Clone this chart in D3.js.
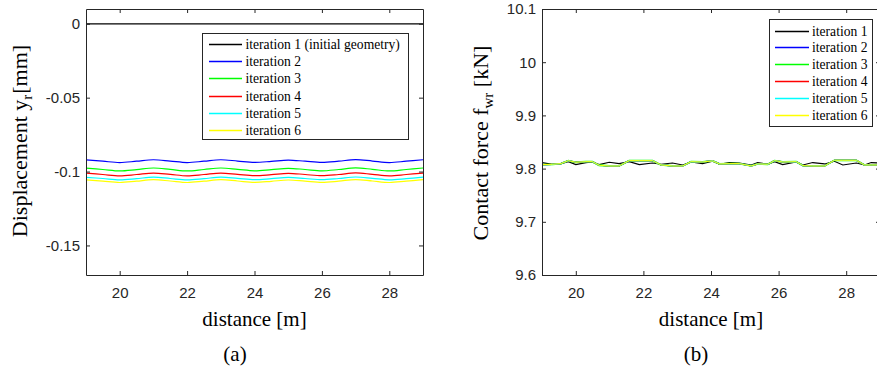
<!DOCTYPE html>
<html>
<head>
<meta charset="utf-8">
<script src="https://cdn.jsdelivr.net/npm/d3@7"></script>
<style>
  html, body { margin: 0; padding: 0; background: #fff; }
  svg { display: block; }
  .tick text { font-family: "Liberation Sans", Arial, sans-serif; font-size: 15px; fill: #262626; }
  .serif { font-family: "Liberation Serif", "Times New Roman", serif; fill: #000; }
</style>
</head>
<body>
<svg id="chart" width="877" height="367"></svg>
<script>
// ---------------- data ----------------
const seriesNamesA = ["iteration 1 (initial geometry)", "iteration 2", "iteration 3", "iteration 4", "iteration 5", "iteration 6"];
const seriesNamesB = ["iteration 1", "iteration 2", "iteration 3", "iteration 4", "iteration 5", "iteration 6"];
const seriesColors = ["#000000", "#0000ff", "#00ff00", "#ff0000", "#00ffff", "#ffff00"];

// (a) displacement y_r [mm] vs distance [m]
const distanceA = [19, 19.5, 20, 20.5, 21, 21.5, 22, 22.5, 23, 23.5, 24, 24.5, 25, 25.5, 26, 26.5, 27, 27.5, 28, 28.5, 29];
const dispIter1 = [0, 0, 0, 0, 0, 0, 0, 0, 0, 0, 0, 0, 0, 0, 0, 0, 0, 0, 0, 0, 0];
const dispIter2 = [-0.0921, -0.0930, -0.0939, -0.0930, -0.0920, -0.0929, -0.0939, -0.0930, -0.0920, -0.0929, -0.0938, -0.0931, -0.0922, -0.0930, -0.0938, -0.0930, -0.0919, -0.0929, -0.0939, -0.0930, -0.0920];
const dispIter3 = [-0.0977, -0.0986, -0.0996, -0.0987, -0.0976, -0.0985, -0.0996, -0.0986, -0.0976, -0.0985, -0.0995, -0.0987, -0.0978, -0.0986, -0.0995, -0.0986, -0.0975, -0.0985, -0.0996, -0.0986, -0.0976];
const dispIter4 = [-0.1011, -0.1020, -0.1029, -0.1020, -0.1010, -0.1019, -0.1029, -0.1020, -0.1010, -0.1019, -0.1028, -0.1021, -0.1012, -0.1020, -0.1028, -0.1020, -0.1009, -0.1019, -0.1029, -0.1020, -0.1010];
const dispIter5 = [-0.1039, -0.1047, -0.1056, -0.1048, -0.1038, -0.1047, -0.1056, -0.1048, -0.1038, -0.1046, -0.1055, -0.1048, -0.1040, -0.1047, -0.1055, -0.1047, -0.1037, -0.1046, -0.1056, -0.1048, -0.1038];
const dispIter6 = [-0.1056, -0.1065, -0.1074, -0.1065, -0.1055, -0.1064, -0.1074, -0.1065, -0.1055, -0.1064, -0.1073, -0.1066, -0.1057, -0.1065, -0.1073, -0.1065, -0.1054, -0.1064, -0.1074, -0.1065, -0.1055];

// (b) contact force f_wr [kN] vs distance [m]
const distanceB = [19, 19.31, 19.56, 19.78, 20.0, 20.3, 20.49, 20.69, 20.99, 21.28, 21.58, 21.88, 22.27, 22.52, 22.86, 23.16, 23.41, 23.75, 24.05, 24.25, 24.54, 24.84, 25.19, 25.38, 25.68, 25.88, 26.12, 26.52, 26.72, 27.01, 27.36, 27.65, 27.9, 28.3, 28.54, 28.74, 29.0];
const forceIter1 = [9.8113, 9.8081, 9.8094, 9.8131, 9.8075, 9.8113, 9.8125, 9.8075, 9.8119, 9.8094, 9.8131, 9.8075, 9.8106, 9.8081, 9.8106, 9.8069, 9.8125, 9.8094, 9.8138, 9.8081, 9.8113, 9.8106, 9.8069, 9.8113, 9.8081, 9.8131, 9.8075, 9.8125, 9.8069, 9.8113, 9.8088, 9.8138, 9.8069, 9.8106, 9.8069, 9.8113, 9.8106];
// iterations 2-6 coincide on the plot
const forceIter2to6 = [9.8075, 9.8081, 9.8094, 9.8150, 9.8119, 9.8131, 9.8131, 9.8063, 9.8050, 9.8050, 9.8150, 9.8150, 9.8150, 9.8069, 9.8050, 9.8050, 9.8131, 9.8125, 9.8144, 9.8088, 9.8094, 9.8094, 9.8050, 9.8088, 9.8081, 9.8150, 9.8125, 9.8131, 9.8056, 9.8050, 9.8050, 9.8156, 9.8156, 9.8156, 9.8069, 9.8069, 9.8069];

const xTicks = [20, 22, 24, 26, 28];
const yTicksA = [0, -0.05, -0.1, -0.15];
const yTickLabelsA = ["0", "-0.05", "-0.1", "-0.15"];
const yTicksB = [9.6, 9.7, 9.8, 9.9, 10, 10.1];
const yTickLabelsB = ["9.6", "9.7", "9.8", "9.9", "10", "10.1"];

// ---------------- drawing ----------------
const svg = d3.select("#chart");
svg.append("rect").attr("width", 877).attr("height", 367).attr("fill", "#fff");
const axisColor = "#262626";

function drawAxes(g, x, y, yTicks, yLabels, top, bottom, left, right) {
  const tick = 4;
  g.append("g").attr("transform", `translate(0,${bottom})`)
    .call(d3.axisBottom(x).tickValues(xTicks).tickFormat(d3.format("d")).tickSizeInner(-tick).tickSizeOuter(0).tickPadding(12.3));
  g.append("g").attr("transform", `translate(0,${top})`)
    .call(d3.axisTop(x).tickValues(xTicks).tickFormat("").tickSizeInner(-tick).tickSizeOuter(0));
  g.append("g").attr("transform", `translate(${left},0)`)
    .call(d3.axisLeft(y).tickValues(yTicks).tickFormat((d, i) => yLabels[i]).tickSizeInner(-tick).tickSizeOuter(0).tickPadding(6));
  g.append("g").attr("transform", `translate(${right},0)`)
    .call(d3.axisRight(y).tickValues(yTicks).tickFormat("").tickSizeInner(-tick).tickSizeOuter(0));
  g.selectAll(".domain, .tick line").attr("stroke", axisColor).attr("stroke-width", 1);
  g.selectAll(".tick text").attr("font-family", null).attr("font-size", null);
}

function drawLegend(g, names, x0, y0, w, h, rowY, lineX1, lineX2, textX) {
  g.append("rect").attr("x", x0).attr("y", y0).attr("width", w).attr("height", h)
    .attr("fill", "#fff").attr("stroke", axisColor).attr("stroke-width", 1);
  names.forEach((n, i) => {
    const yy = rowY[i];
    g.append("line").attr("x1", lineX1).attr("x2", lineX2).attr("y1", yy).attr("y2", yy)
      .attr("stroke", seriesColors[i]).attr("stroke-width", 1.3);
    g.append("text").attr("class", "serif").attr("x", textX).attr("y", yy).attr("dy", "0.33em")
      .attr("font-size", 13.6).text(n);
  });
}

// ----- panel (a) -----
const A = { left: 86, right: 423, top: 9, bottom: 275 };
const xA = d3.scaleLinear().domain([19, 29]).range([A.left, A.right]);
const yA = d3.scaleLinear().domain([-0.17, 0.01]).range([A.bottom, A.top]);
const gA = svg.append("g");
const dispSeries = [dispIter1, dispIter2, dispIter3, dispIter4, dispIter5, dispIter6];
const lineA = d3.line().x((d, i) => xA(distanceA[i])).y(d => yA(d)).curve(d3.curveCatmullRom.alpha(0.5));
dispSeries.forEach((s, k) => {
  gA.append("path").datum(s).attr("d", lineA).attr("fill", "none")
    .attr("stroke", seriesColors[k]).attr("stroke-width", 1.2);
});
drawAxes(gA, xA, yA, yTicksA, yTickLabelsA, A.top, A.bottom, A.left, A.right);
drawLegend(gA, seriesNamesA, 202.5, 33.5, 206, 106, [44.5, 61.5, 78.5, 96.5, 113.5, 130.5], 209, 242, 245.5);

gA.append("text").attr("class", "serif").attr("x", (A.left + A.right) / 2).attr("y", 326)
  .attr("text-anchor", "middle").attr("font-size", 21).text("distance [m]");
gA.append("text").attr("class", "serif").attr("x", 235).attr("y", 361)
  .attr("text-anchor", "middle").attr("font-size", 21).text("(a)");
const ylA = gA.append("text").attr("class", "serif").attr("transform", "translate(27,141) rotate(-90)")
  .attr("text-anchor", "middle").attr("font-size", 22);
ylA.append("tspan").text("Displacement y");
ylA.append("tspan").attr("font-size", 15).attr("dy", 5).text("r");
ylA.append("tspan").attr("dy", -5).attr("dx", 1).text("[mm]");

// ----- panel (b) -----
const B = { left: 542, right: 880, top: 9, bottom: 275 };
const xB = d3.scaleLinear().domain([19, 29]).range([B.left, B.right]);
const yB = d3.scaleLinear().domain([9.6, 10.1]).range([B.bottom, B.top]);
const gB = svg.append("g");
const lineB = d3.line().x((d, i) => xB(distanceB[i])).y(d => yB(d));
const forceSeries = [forceIter1, forceIter2to6, forceIter2to6, forceIter2to6, forceIter2to6, forceIter2to6];
const forceWidths = [1.1, 1.2, 1.8, 1.2, 1.2, 1.0];
forceSeries.forEach((s, k) => {
  gB.append("path").datum(s).attr("d", lineB).attr("fill", "none")
    .attr("stroke", seriesColors[k]).attr("stroke-width", forceWidths[k]);
});
drawAxes(gB, xB, yB, yTicksB, yTickLabelsB, B.top, B.bottom, B.left, B.right);
drawLegend(gB, seriesNamesB, 769.5, 19.5, 103, 107, [31.5, 47.5, 64.5, 81.5, 98.5, 115.5], 775, 809, 812);

gB.append("text").attr("class", "serif").attr("x", 711).attr("y", 326)
  .attr("text-anchor", "middle").attr("font-size", 21).text("distance [m]");
gB.append("text").attr("class", "serif").attr("x", 696).attr("y", 361)
  .attr("text-anchor", "middle").attr("font-size", 21).text("(b)");
const ylB = gB.append("text").attr("class", "serif").attr("transform", "translate(488,143) rotate(-90)")
  .attr("text-anchor", "middle").attr("font-size", 22);
ylB.append("tspan").text("Contact force f");
ylB.append("tspan").attr("font-size", 15).attr("dy", 5).text("wr");
ylB.append("tspan").attr("dy", -5).text(" [kN]");
</script>
</body>
</html>
